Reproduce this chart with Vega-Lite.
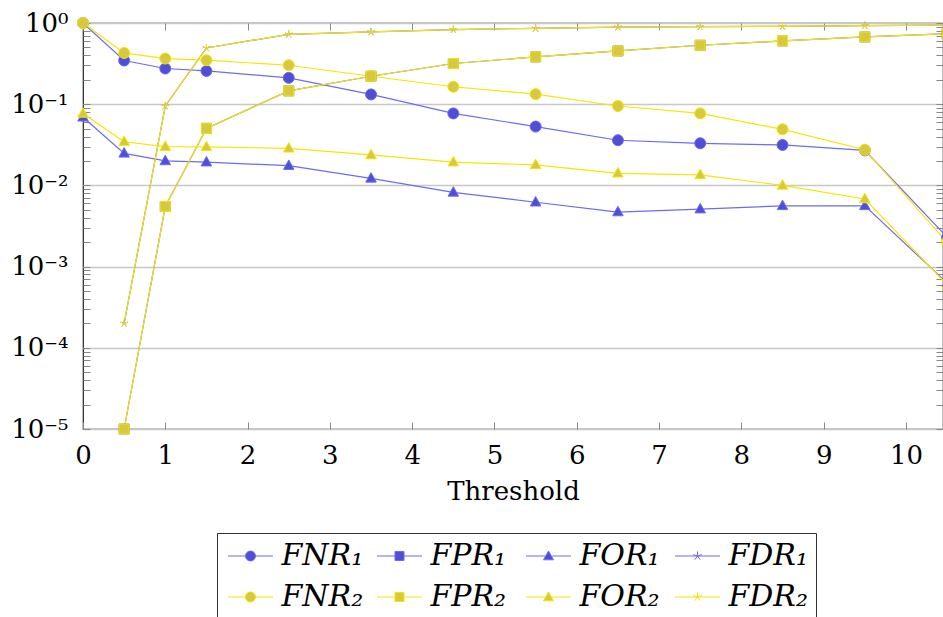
{
  "$schema": "https://vega.github.io/schema/vega-lite/v6.json",
  "width": 860,
  "height": 406,
  "autosize": {"type": "none"},
  "padding": {"left": 83, "top": 23, "right": 0, "bottom": 188},
  "config": {"view": {"stroke": "#222", "strokeWidth": 1.2}, "font": "DejaVu Serif"},
  "data": {"values": [
    {"t": 0, "s": "FNR₁", "v": 1}, {"t": 0.5, "s": "FNR₁", "v": 0.345}, {"t": 1, "s": "FNR₁", "v": 0.275}, {"t": 1.5, "s": "FNR₁", "v": 0.257}, {"t": 2.5, "s": "FNR₁", "v": 0.211}, {"t": 3.5, "s": "FNR₁", "v": 0.132}, {"t": 4.5, "s": "FNR₁", "v": 0.077}, {"t": 5.5, "s": "FNR₁", "v": 0.053}, {"t": 6.5, "s": "FNR₁", "v": 0.036}, {"t": 7.5, "s": "FNR₁", "v": 0.033}, {"t": 8.5, "s": "FNR₁", "v": 0.0315}, {"t": 9.5, "s": "FNR₁", "v": 0.027}, {"t": 10.5, "s": "FNR₁", "v": 0.0023},
    {"t": 0.5, "s": "FPR₁", "v": 0.00001}, {"t": 1, "s": "FPR₁", "v": 0.0055}, {"t": 1.5, "s": "FPR₁", "v": 0.0504}, {"t": 2.5, "s": "FPR₁", "v": 0.146}, {"t": 3.5, "s": "FPR₁", "v": 0.221}, {"t": 4.5, "s": "FPR₁", "v": 0.317}, {"t": 5.5, "s": "FPR₁", "v": 0.382}, {"t": 6.5, "s": "FPR₁", "v": 0.453}, {"t": 7.5, "s": "FPR₁", "v": 0.532}, {"t": 8.5, "s": "FPR₁", "v": 0.601}, {"t": 9.5, "s": "FPR₁", "v": 0.673}, {"t": 10.5, "s": "FPR₁", "v": 0.74},
    {"t": 0, "s": "FOR₁", "v": 0.069}, {"t": 0.5, "s": "FOR₁", "v": 0.0248}, {"t": 1, "s": "FOR₁", "v": 0.02}, {"t": 1.5, "s": "FOR₁", "v": 0.0193}, {"t": 2.5, "s": "FOR₁", "v": 0.0175}, {"t": 3.5, "s": "FOR₁", "v": 0.0122}, {"t": 4.5, "s": "FOR₁", "v": 0.0082}, {"t": 5.5, "s": "FOR₁", "v": 0.0062}, {"t": 6.5, "s": "FOR₁", "v": 0.0047}, {"t": 7.5, "s": "FOR₁", "v": 0.0051}, {"t": 8.5, "s": "FOR₁", "v": 0.0056}, {"t": 9.5, "s": "FOR₁", "v": 0.0056}, {"t": 10.5, "s": "FOR₁", "v": 0.00063},
    {"t": 0.5, "s": "FDR₁", "v": 0.0002}, {"t": 1, "s": "FDR₁", "v": 0.095}, {"t": 1.5, "s": "FDR₁", "v": 0.493}, {"t": 2.5, "s": "FDR₁", "v": 0.726}, {"t": 3.5, "s": "FDR₁", "v": 0.776}, {"t": 4.5, "s": "FDR₁", "v": 0.83}, {"t": 5.5, "s": "FDR₁", "v": 0.86}, {"t": 6.5, "s": "FDR₁", "v": 0.89}, {"t": 7.5, "s": "FDR₁", "v": 0.9}, {"t": 8.5, "s": "FDR₁", "v": 0.91}, {"t": 9.5, "s": "FDR₁", "v": 0.93}, {"t": 10.5, "s": "FDR₁", "v": 0.94},
    {"t": 0, "s": "FNR₂", "v": 1}, {"t": 0.5, "s": "FNR₂", "v": 0.428}, {"t": 1, "s": "FNR₂", "v": 0.365}, {"t": 1.5, "s": "FNR₂", "v": 0.348}, {"t": 2.5, "s": "FNR₂", "v": 0.302}, {"t": 3.5, "s": "FNR₂", "v": 0.221}, {"t": 4.5, "s": "FNR₂", "v": 0.164}, {"t": 5.5, "s": "FNR₂", "v": 0.133}, {"t": 6.5, "s": "FNR₂", "v": 0.095}, {"t": 7.5, "s": "FNR₂", "v": 0.077}, {"t": 8.5, "s": "FNR₂", "v": 0.049}, {"t": 9.5, "s": "FNR₂", "v": 0.0275}, {"t": 10.5, "s": "FNR₂", "v": 0.002},
    {"t": 0.5, "s": "FPR₂", "v": 0.00001}, {"t": 1, "s": "FPR₂", "v": 0.0055}, {"t": 1.5, "s": "FPR₂", "v": 0.0504}, {"t": 2.5, "s": "FPR₂", "v": 0.146}, {"t": 3.5, "s": "FPR₂", "v": 0.221}, {"t": 4.5, "s": "FPR₂", "v": 0.317}, {"t": 5.5, "s": "FPR₂", "v": 0.382}, {"t": 6.5, "s": "FPR₂", "v": 0.453}, {"t": 7.5, "s": "FPR₂", "v": 0.532}, {"t": 8.5, "s": "FPR₂", "v": 0.601}, {"t": 9.5, "s": "FPR₂", "v": 0.673}, {"t": 10.5, "s": "FPR₂", "v": 0.74},
    {"t": 0, "s": "FOR₂", "v": 0.077}, {"t": 0.5, "s": "FOR₂", "v": 0.0345}, {"t": 1, "s": "FOR₂", "v": 0.03}, {"t": 1.5, "s": "FOR₂", "v": 0.0298}, {"t": 2.5, "s": "FOR₂", "v": 0.0286}, {"t": 3.5, "s": "FOR₂", "v": 0.0237}, {"t": 4.5, "s": "FOR₂", "v": 0.0193}, {"t": 5.5, "s": "FOR₂", "v": 0.0179}, {"t": 6.5, "s": "FOR₂", "v": 0.0141}, {"t": 7.5, "s": "FOR₂", "v": 0.0135}, {"t": 8.5, "s": "FOR₂", "v": 0.01}, {"t": 9.5, "s": "FOR₂", "v": 0.0068}, {"t": 10.5, "s": "FOR₂", "v": 0.0006},
    {"t": 0.5, "s": "FDR₂", "v": 0.0002}, {"t": 1, "s": "FDR₂", "v": 0.095}, {"t": 1.5, "s": "FDR₂", "v": 0.493}, {"t": 2.5, "s": "FDR₂", "v": 0.726}, {"t": 3.5, "s": "FDR₂", "v": 0.776}, {"t": 4.5, "s": "FDR₂", "v": 0.83}, {"t": 5.5, "s": "FDR₂", "v": 0.86}, {"t": 6.5, "s": "FDR₂", "v": 0.89}, {"t": 7.5, "s": "FDR₂", "v": 0.9}, {"t": 8.5, "s": "FDR₂", "v": 0.91}, {"t": 9.5, "s": "FDR₂", "v": 0.93}, {"t": 10.5, "s": "FDR₂", "v": 0.94}
  ]},
  "layer": [
    {
      "mark": {"type": "line", "strokeWidth": 1.2},
      "encoding": {
        "x": {"field": "t", "type": "quantitative",
          "scale": {"domain": [0, 10.45], "nice": false, "zero": false},
          "axis": {"orient": "bottom", "title": "Threshold", "values": [0,1,2,3,4,5,6,7,8,9,10], "format": "d", "grid": false, "domain": false,
            "tickSize": -7, "tickColor": "#888", "labelPadding": 20, "labelFontSize": 26, "labelColor": "#000", "labelFont": "DejaVu Serif",
            "titleFontSize": 26, "titleFontWeight": "normal", "titleColor": "#000", "titleFont": "DejaVu Serif", "titlePadding": 10, "labelFlush": false}},
        "y": {"field": "v", "type": "quantitative",
          "scale": {"type": "log", "domain": [0.00001, 1], "nice": false},
          "axis": {"orient": "left", "title": null, "domain": false,
            "values": [0.00001,0.00002,0.00003,0.00004,0.00005,0.00006,0.00007,0.00008,0.00009,0.0001,0.0002,0.0003,0.0004,0.0005,0.0006,0.0007,0.0008,0.0009,0.001,0.002,0.003,0.004,0.005,0.006,0.007,0.008,0.009,0.01,0.02,0.03,0.04,0.05,0.06,0.07,0.08,0.09,0.1,0.2,0.3,0.4,0.5,0.6,0.7,0.8,0.9,1],
            "labelExpr": "abs(log(datum.value)/LN10 - round(log(datum.value)/LN10)) < 0.001 ? '10' + ['⁰','⁻¹','⁻²','⁻³','⁻⁴','⁻⁵'][-round(log(datum.value)/LN10)] : ''",
            "grid": true, "gridColor": "#c8c8c8", "gridWidth": 1.5,
            "gridOpacity": {"condition": {"test": "abs(log(datum.value)/LN10 - round(log(datum.value)/LN10)) < 0.001", "value": 1}, "value": 0},
            "tickSize": -7, "tickColor": "#888", "labelPadding": 22, "labelFontSize": 26, "labelColor": "#000", "labelFont": "DejaVu Serif", "labelFlush": false, "labelOverlap": false}},
        "stroke": {"field": "s", "type": "nominal",
          "scale": {"domain": ["FNR₁","FPR₁","FOR₁","FDR₁","FNR₂","FPR₂","FOR₂","FDR₂"],
                    "range": ["#6b6bf5","#6b6bf5","#6b6bf5","#6b6bf5","#f5e600","#f5e600","#f5e600","#f5e600"]},
          "legend": {"orient": "none", "legendX": 134, "legendY": 510, "columns": 4, "direction": "horizontal", "title": null, "gridAlign": "all",
            "strokeColor": "#333", "fillColor": "#fff", "padding": 8,
            "labelFont": "DejaVu Serif", "labelFontStyle": "italic", "labelFontSize": 30, "labelColor": "#000",
            "symbolSize": 400, "symbolOffset": 10.5, "labelOffset": 16, "rowPadding": 11, "columnPadding": 10, "symbolStrokeWidth": 1,
            "encode": {"symbols": {"update": {
              "shape": {"signal": "indexof(datum.value,'FNR')>=0 ? 'M-2.25,0H-0.5M0.5,0H2.25M0.5,0A0.5,0.5 0 1,1 -0.5,0A0.5,0.5 0 1,1 0.5,0Z' : indexof(datum.value,'FPR')>=0 ? 'M-2.25,0H-0.45M0.45,0H2.25M-0.45,-0.45H0.45V0.45H-0.45Z' : indexof(datum.value,'FOR')>=0 ? 'M-2.25,0H-0.3M0.3,0H2.25M0,-0.5L0.5,0.38L-0.5,0.38Z' : 'M-2.25,0H2.25M0,0L0,-0.45M0,0L0.43,-0.14M0,0L0.265,0.365M0,0L-0.265,0.365M0,0L-0.43,-0.14'"},
              "fill": {"signal": "indexof(datum.value,'FDR')>=0 ? 'transparent' : indexof(datum.value,'₁')>=0 ? '#4f4fd6' : '#d8c840'"},
              "stroke": {"signal": "indexof(datum.value,'₁')>=0 ? '#6b6bf5' : '#f5e600'"},
              "opacity": {"value": 1},
              "strokeWidth": {"value": 1}
            }}}}
        }
      }
    },
    {
      "transform": [{"filter": {"field": "s", "oneOf": ["FNR₁", "FNR₂"]}}],
      "mark": {"type": "point", "filled": true, "opacity": 1, "strokeWidth": 1, "size": 100, "shape": "M1.1,0A1.1,1.1 0 1,1 -1.1,0A1.1,1.1 0 1,1 1.1,0Z"},
      "encoding": {
        "x": {"field": "t", "type": "quantitative",
          "axis": {"orient": "top", "title": null, "values": [0,1,2,3,4,5,6,7,8,9,10], "labels": false, "grid": false, "domain": false, "tickSize": -7, "tickColor": "#888"}},
        "y": {"field": "v", "type": "quantitative",
          "axis": {"orient": "right", "title": null, "labels": false, "grid": false, "domain": false, "tickSize": -7, "tickColor": "#888",
            "values": [0.00001,0.00002,0.00003,0.00004,0.00005,0.00006,0.00007,0.00008,0.00009,0.0001,0.0002,0.0003,0.0004,0.0005,0.0006,0.0007,0.0008,0.0009,0.001,0.002,0.003,0.004,0.005,0.006,0.007,0.008,0.009,0.01,0.02,0.03,0.04,0.05,0.06,0.07,0.08,0.09,0.1,0.2,0.3,0.4,0.5,0.6,0.7,0.8,0.9,1]}},
        "stroke": {"field": "s", "type": "nominal", "legend": null},
        "fill": {"field": "s", "type": "nominal",
          "scale": {"domain": ["FNR₁","FPR₁","FOR₁","FDR₁","FNR₂","FPR₂","FOR₂","FDR₂"],
                    "range": ["#4f4fd6","#4f4fd6","#4f4fd6","#4f4fd6","#d8c840","#d8c840","#d8c840","#d8c840"]},
          "legend": null}
      }
    },
    {
      "transform": [{"filter": {"field": "s", "oneOf": ["FPR₁", "FPR₂"]}}],
      "mark": {"type": "point", "filled": true, "opacity": 1, "strokeWidth": 1, "size": 100, "shape": "M-1,-1H1V1H-1Z"},
      "encoding": {
        "x": {"field": "t", "type": "quantitative", "axis": null},
        "y": {"field": "v", "type": "quantitative", "axis": null},
        "stroke": {"field": "s", "type": "nominal", "legend": null},
        "fill": {"field": "s", "type": "nominal", "legend": null}
      }
    },
    {
      "transform": [{"filter": {"field": "s", "oneOf": ["FOR₁", "FOR₂"]}}],
      "mark": {"type": "point", "filled": true, "opacity": 1, "strokeWidth": 1, "size": 100, "shape": "M0,-1.15L1.05,0.75L-1.05,0.75Z"},
      "encoding": {
        "x": {"field": "t", "type": "quantitative", "axis": null},
        "y": {"field": "v", "type": "quantitative", "axis": null},
        "stroke": {"field": "s", "type": "nominal", "legend": null},
        "fill": {"field": "s", "type": "nominal", "legend": null}
      }
    },
    {
      "transform": [{"filter": {"field": "s", "oneOf": ["FDR₁", "FDR₂"]}}],
      "mark": {"type": "point", "filled": false, "opacity": 1, "strokeWidth": 1, "size": 100, "shape": "M0,0L0,-0.8M0,0L0.761,-0.247M0,0L0.47,0.647M0,0L-0.47,0.647M0,0L-0.761,-0.247"},
      "encoding": {
        "x": {"field": "t", "type": "quantitative", "axis": null},
        "y": {"field": "v", "type": "quantitative", "axis": null},
        "stroke": {"field": "s", "type": "nominal", "legend": null}
      }
    }
  ],
  "resolve": {"axis": {"x": "independent", "y": "independent"}}
}
